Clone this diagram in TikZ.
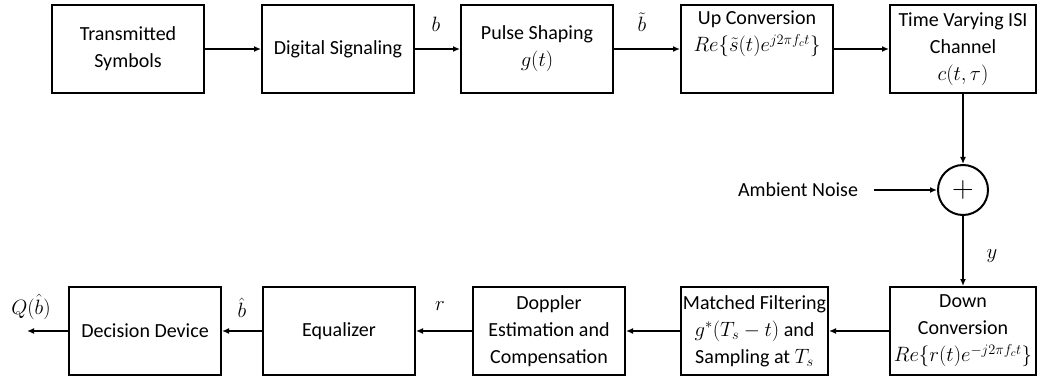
\documentclass[tikz,border=0pt]{standalone}
\usepackage{fontspec}
\usepackage{graphicx}
\setmainfont{Carlito}
\usetikzlibrary{arrows.meta}
\newcommand\bigmath[1]{{\fontsize{21.5}{27}\selectfont$#1$}}
\tikzset{
  blk/.style={draw=black, line width=2pt, minimum height=88pt, inner sep=0pt, align=center, font=\fontsize{20}{27}\selectfont},
  arr/.style={line width=1.5pt, -{Latex[length=7pt,width=6pt]}},
  lbl/.style={font=\fontsize{22}{26}\selectfont, inner sep=0pt},
}
\begin{document}
\begin{tikzpicture}[x=1pt,y=-1pt]
\useasboundingbox (0,0) rectangle (1038,382);
% top row
\node[blk, minimum width=152pt] (n1) at (128,49) {Transmitted\\Symbols};
\node[blk, minimum width=152pt] (n2) at (338,49) {Digital Signaling};
\node[blk, minimum width=152pt] (n3) at (537,49) {Pulse Shaping\\\bigmath{g(t)}};
\node[blk, minimum width=152pt] (n4) at (757,49) {Up Conversion\\\bigmath{Re\{\tilde{s}(t)e^{j2\pi f_c t}\}}\\\strut};
\node[blk, minimum width=146pt] (n5) at (963,49) {Time Varying ISI\\Channel\\\bigmath{c(t,\tau)}};
% summer
\node[draw=black, line width=2pt, circle, minimum size=50pt, inner sep=0pt, font=\fontsize{20}{20}\selectfont] (sum) at (963,190) {\scalebox{1.45}{$+$}};
\node[font=\fontsize{20}{24}\selectfont, inner sep=0pt] (noise) at (798,190) {Ambient Noise};
% bottom row
\node[blk, minimum width=146pt] (d1) at (963,331) {Down\\Conversion\\\bigmath{Re\{r(t)e^{-j2\pi f_c t}\}}};
\node[blk, minimum width=147pt] (d2) at (754.5,331) {Matched Filtering\\\bigmath{g^{*}(T_s-t)} and\\Sampling at \bigmath{T_s}};
\node[blk, minimum width=152pt] (d3) at (549,331) {Doppler\\Estimation and\\Compensation};
\node[blk, minimum width=152pt] (d4) at (339,331) {Equalizer};
\node[blk, minimum width=152pt] (d5) at (145,331) {Decision Device};
\coordinate (out) at (27,331);
% connectors
\draw[arr] (n1) -- (n2);
\draw[arr] (n2) -- (n3);
\draw[arr] (n3) -- (n4);
\draw[arr] (n4) -- (n5);
\draw[arr] (n5) -- (sum);
\draw[arr] ([xshift=16pt]noise.east) -- (sum);
\draw[arr] (sum) -- (d1);
\draw[arr] (d1) -- (d2);
\draw[arr] (d2) -- (d3);
\draw[arr] (d3) -- (d4);
\draw[arr] (d4) -- (d5);
\draw[arr] (d5) -- (out);
% labels
\node[lbl] (lb) at (436,24) {$b$};
\node[lbl] (lbt) at (642,22) {$\tilde{b}$};
\node[lbl] (ly) at (992,256) {$y$};
\node[lbl] (lr) at (440,306) {$r$};
\node[lbl] (lbh) at (242,308) {$\hat{b}$};
\node[lbl] (lq) at (31,307) {$Q(\hat{b})$};
\end{tikzpicture}
\end{document}
